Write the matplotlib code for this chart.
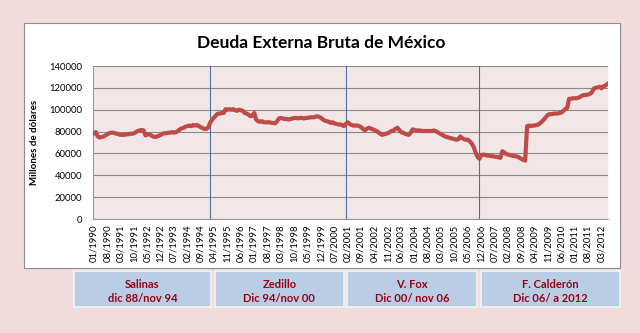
import matplotlib.pyplot as plt
import matplotlib.patches as mpatches
import numpy as np
import pandas as pd

plt.rcParams['font.family'] = ['Lato', 'DejaVu Sans']

# deuda externa bruta, millones de dolares, mensual desde 01/1990
deuda = [
    78500, 79500, 75500, 74500, 75000, 75500, 76500, 77500, 78500, 79000, 79000, 78500,  # 1990
    78000, 77500, 77000, 77000, 77000, 77500, 77500, 78000, 78000, 78500, 79500, 80500,  # 1991
    81000, 81500, 81000, 76500, 77500, 77500, 76500, 75500, 75000, 75500, 76000, 77000,  # 1992
    78000, 78500, 78500, 79000, 79000, 79500, 79000, 79500, 80500, 82000, 83000, 83500,  # 1993
    84500, 85000, 85500, 85000, 86000, 85500, 86000, 85000, 84000, 83000, 82500, 82500,  # 1994
    84000, 88500, 91000, 93000, 95000, 96500, 96500, 97000, 97000, 100500, 100000, 100500,  # 1995
    100000, 100500, 99500, 99000, 100000, 99500, 99000, 97000, 96500, 95500, 94000, 94500,  # 1996
    97000, 91000, 89500, 89000, 89500, 88500, 88500, 88500, 88500, 88000, 88000, 87500,  # 1997
    89500, 92000, 92500, 92000, 91500, 91500, 91000, 91500, 92000, 92500, 92500, 92000,  # 1998
    92500, 92500, 92000, 92500, 92500, 93000, 93000, 93000, 93500, 94000, 93500, 92500,  # 1999
    91000, 90000, 89500, 89000, 88000, 88500, 87500, 87000, 86500, 86500, 86000, 85000,  # 2000
    87000, 88500, 87000, 86000, 85500, 85500, 85500, 85000, 84000, 82500, 81000, 82500,  # 2001
    83500, 83000, 82000, 81500, 80500, 79500, 78000, 77000, 77500, 78000, 78500, 79500,  # 2002
    80500, 81000, 82500, 83500, 81500, 79500, 79000, 78000, 77500, 77000, 79000, 82000,  # 2003
    81500, 81000, 81000, 81000, 80500, 80500, 80500, 80500, 80500, 80500, 81000, 80500,  # 2004
    79500, 78500, 77500, 76500, 75500, 75000, 74500, 74000, 73500, 73000, 72500, 73000,  # 2005
    75500, 74000, 73000, 72500, 72500, 71000, 69000, 66000, 61000, 57000, 55000, 58500,  # 2006
    59000, 58500, 58000, 58000, 57500, 57500, 57000, 57000, 56500, 56000, 62000, 61000,  # 2007
    59500, 59000, 58500, 58000, 57500, 57500, 57000, 56000, 55000, 54000, 53500, 85000,  # 2008
    85500, 85000, 85500, 85500, 86000, 86500, 88000, 89500, 91500, 93500, 95500, 96000,  # 2009
    96000, 96500, 96500, 96500, 97000, 97500, 99000, 100500, 101500, 110000, 110000, 110500,  # 2010
    110500, 110500, 111000, 112000, 113000, 113500, 113500, 114000, 114500, 116000, 119500, 120000,  # 2011
    120500, 121000, 119500, 121500, 122000, 123500,  # 2012
]
fechas = pd.date_range('1990-01-01', periods=len(deuda), freq='MS')
tick_labels = list(fechas[::7].strftime('%m/%Y'))

# cambios de sexenio (indice de mes)
cambios = [61, 132, 202]
presidentes = ['Salinas', 'Zedillo', 'V. Fox', 'F. Calderón']
periodos = ['dic 88/nov 94', 'Dic 94/nov 00', 'Dic 00/ nov 06', 'Dic 06/ a 2012']

fig = plt.figure(figsize=(6.4, 3.33), dpi=100)
fig.patch.set_facecolor('#f2dcdb')

# caja blanca del grafico
fig.patches.append(mpatches.Rectangle((0.0375, 0.195), 0.931, 0.736, transform=fig.transFigure,
                                      facecolor='white', edgecolor='#8c8c8c', lw=0.8, zorder=-5))

ax = fig.add_axes([0.1453, 0.3423, 0.805, 0.4595])
ax.set_facecolor('#f3e6e6')
x = np.arange(len(deuda))
ax.plot(x, deuda, color='#be4b48', lw=3, solid_joinstyle='round', zorder=3)
for c in cambios:
    ax.axvline(c, color='#4f6f9f', lw=0.8, zorder=2)

ax.set_xlim(-0.5, len(deuda) - 0.5)
ax.set_ylim(0, 140000)
ax.set_yticks(np.arange(0, 140001, 20000))
ax.yaxis.grid(True, color='#8a8a8a', lw=0.8)
ax.set_axisbelow(True)
ax.set_xticks(np.arange(0, len(deuda), 7))
ax.set_xticklabels(tick_labels, rotation=90, fontsize=6.8)
ax.tick_params(axis='y', labelsize=6.8, length=0, pad=8)
ax.tick_params(axis='x', length=0, pad=4)
for s in ['top', 'right']:
    ax.spines[s].set_visible(False)
for s in ['left', 'bottom']:
    ax.spines[s].set_color('#9a9a9a')
ax.set_ylabel('Millones de dólares', fontsize=7, fontweight='bold', labelpad=7)

fig.text(0.502, 0.87, 'Deuda Externa Bruta de México', ha='center', va='center',
         fontsize=12.5, fontweight='bold')

# recuadros de sexenios
cajas = [(0.115, 0.330), (0.336, 0.537), (0.542, 0.745), (0.752, 0.968)]
for (x0, x1), nom, per in zip(cajas, presidentes, periodos):
    fig.patches.append(mpatches.Rectangle((x0, 0.078), x1 - x0, 0.108, transform=fig.transFigure,
                                          facecolor='#b9cde5', edgecolor='#f4f4f4', lw=1.2))
    fig.text((x0 + x1) / 2, 0.146, nom, ha='center', va='center', fontsize=8,
             fontweight='bold', color='#9c0014')
    fig.text((x0 + x1) / 2, 0.104, per, ha='center', va='center', fontsize=8,
             fontweight='bold', color='#9c0014')

fig.savefig('out.png', dpi=100, facecolor=fig.get_facecolor())
